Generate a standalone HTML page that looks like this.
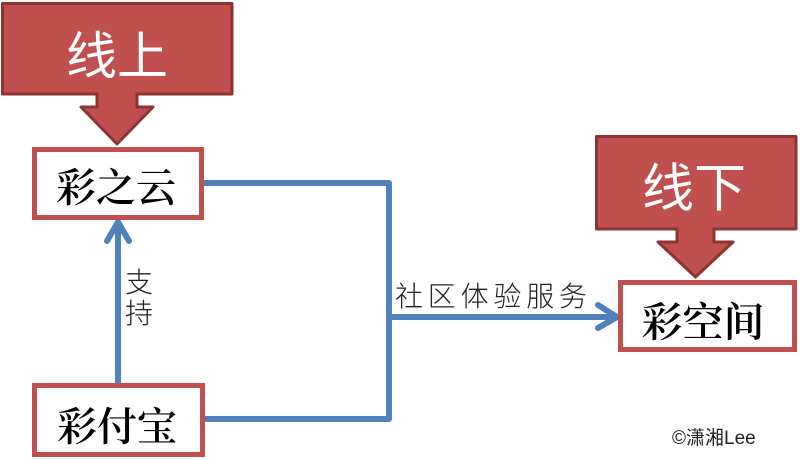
<!DOCTYPE html>
<html><head><meta charset="utf-8"><style>
html,body{margin:0;padding:0;background:#fff;}
svg{display:block;}
</style></head><body>
<svg width="800" height="460" viewBox="0 0 800 460" xmlns="http://www.w3.org/2000/svg">
<rect width="800" height="460" fill="#ffffff"/>
<!-- callout 线上 -->
<path d="M2.5,3.5 H232 V94 H137 V107 H153 L117,144 L81,107 H97 V94 H2.5 Z" fill="#c0504d" stroke="#8e3533" stroke-width="3" stroke-linejoin="round"/>
<text x="117" y="52" font-family="'Noto Sans CJK SC','WenQuanYi Zen Hei',sans-serif" font-size="51" fill="#ffffff" text-anchor="middle" dominant-baseline="central">线上</text>
<!-- callout 线下 -->
<path d="M596.5,136.5 H796 V229 H714 V242 H733 L695.5,277 L658,242 H677 V229 H596.5 Z" fill="#c0504d" stroke="#8e3533" stroke-width="3" stroke-linejoin="round"/>
<text x="694" y="184" font-family="'Noto Sans CJK SC','WenQuanYi Zen Hei',sans-serif" font-size="52" fill="#ffffff" text-anchor="middle" dominant-baseline="central">线下</text>
<!-- connectors -->
<g fill="none" stroke="#4f81bd" stroke-width="6" stroke-linejoin="round" stroke-linecap="round">
<path d="M204,183 H389 V419 H204" stroke-linecap="butt"/>
<path d="M389,317 H615" stroke-linecap="butt"/>
<path d="M598,305 L617,317 L598,328"/>
<path d="M118,383 V223" stroke-linecap="butt"/>
<path d="M107,241 L118,222 L129,241"/>
</g>
<!-- boxes -->
<g fill="#ffffff" stroke="#c0504d" stroke-width="5">
<rect x="34.5" y="149.5" width="167" height="68"/>
<rect x="34.5" y="385.5" width="168" height="69"/>
<rect x="620.5" y="282.5" width="174" height="67"/>
</g>
<g font-family="'Noto Serif CJK SC','Noto Sans CJK SC',serif" font-weight="600" fill="#000" text-anchor="middle" dominant-baseline="central">
<text x="116" y="185" font-size="40">彩之云</text>
<text x="117" y="424" font-size="40">彩付宝</text>
<text x="703" y="319" font-size="41">彩空间</text>
</g>
<g font-family="'Noto Sans CJK SC','WenQuanYi Zen Hei',sans-serif" font-weight="300" fill="#222" dominant-baseline="central">
<text x="139" y="281" font-size="28" text-anchor="middle">支</text>
<text x="139" y="312" font-size="28" text-anchor="middle">持</text>
<text x="395" y="295" font-size="28" textLength="192" lengthAdjust="spacing">社区体验服务</text>
</g>
<text x="672" y="444" font-family="'Liberation Sans','Noto Sans CJK SC',sans-serif" font-size="19" fill="#222">©潇湘Lee</text>
</svg>
</body></html>
